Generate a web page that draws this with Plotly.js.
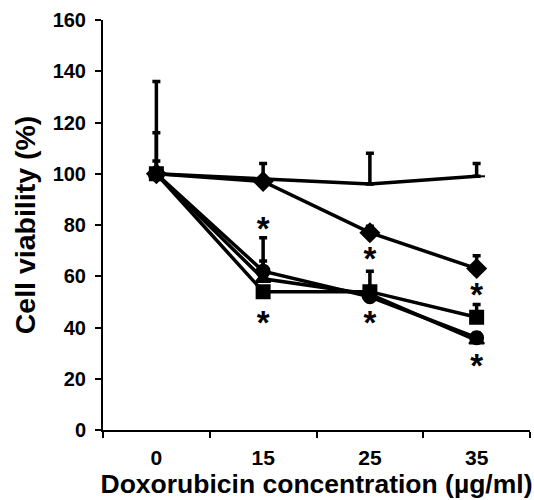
<!DOCTYPE html>
<html>
<head>
<meta charset="utf-8">
<script src="https://cdn.plot.ly/plotly-3.0.1.min.js"></script>
<style>html,body{margin:0;padding:0;background:#fff;}#chart{width:534px;height:500px;}</style>
</head>
<body>
<div id="chart"></div>
<script>
var categories = ["0", "15", "25", "35"];

var controlVals = [100, 98, 96, 99];
var controlErr  = [5, 6, 12, 5];

var diamondVals = [100, 97, 77, 63];
var diamondErr  = [16, 0, 2.5, 5];

var squareVals  = [100, 54, 54, 44];
var squareErr   = [0, 0, 0, 5];

var circleVals  = [100, 62, 52, 36];
var circleErr   = [36, 13, 10, 2];

var triangleVals = [100, 59, 53, 35];
var triangleErr  = [0, 7, 0, 0];

var starX = ["15", "15", "25", "25", "35", "35"];
var starY = [77.5, 40.5, 65.5, 40.5, 51.5, 24];

var yTicks = [0, 20, 40, 60, 80, 100, 120, 140, 160];

var FONT = "Liberation Sans, Arial, sans-serif";

function series(vals, err, symbol, size) {
  return {
    x: categories, y: vals, type: "scatter", mode: "lines+markers",
    line: {color: "#000", width: 3.5},
    marker: {symbol: symbol, size: size, color: "#000", line: {color: "#000", width: 2}},
    error_y: {type: "data", symmetric: false, array: err, arrayminus: err.map(function(){return 0;}),
              color: "#000", thickness: 3.5, width: 4},
    showlegend: false, cliponaxis: false
  };
}

var data = [
  series(controlVals, controlErr, "line-ew", 12),
  series(triangleVals, triangleErr, "triangle-up", 13),
  series(circleVals, circleErr, "circle", 13),
  series(squareVals, squareErr, "square", 13),
  series(diamondVals, diamondErr, "diamond", 14),
  {
    x: starX, y: starY, type: "scatter", mode: "text", text: starX.map(function(){return "*";}),
    textfont: {family: FONT, size: 33, weight: "bold", color: "#000"}, textposition: "middle center",
    showlegend: false, cliponaxis: false, hoverinfo: "skip"
  }
];

var layout = {
  width: 534, height: 500,
  margin: {l: 103, r: 4, t: 20, b: 70},
  paper_bgcolor: "#fff", plot_bgcolor: "#fff",
  font: {family: FONT, color: "#000"},
  xaxis: {
    type: "category", range: [-0.5, 3.5], tickvals: categories, ticktext: categories,
    tickson: "boundaries", ticks: "outside", ticklen: 6, tickwidth: 2, tickcolor: "#000",
    showline: true, linecolor: "#000", linewidth: 2, showgrid: false, zeroline: false,
    ticklabelstandoff: 8,
    tickfont: {size: 21, family: FONT, weight: "bold", color: "#000"},
    title: {text: "<b>Doxorubicin concentration (µg/ml)</b>", font: {size: 26.5, family: FONT, color: "#000"}, standoff: 1}
  },
  yaxis: {
    range: [0, 160], tickvals: yTicks, ticks: "outside", ticklen: 6, tickwidth: 2, tickcolor: "#000",
    showline: true, linecolor: "#000", linewidth: 2, showgrid: false, zeroline: false,
    ticklabelstandoff: 5,
    tickfont: {size: 20, family: FONT, weight: "bold", color: "#000"},
    title: {text: "<b>Cell viability (%)</b>", font: {size: 28.5, family: FONT, color: "#000"}, standoff: 9}
  }
};

Plotly.newPlot("chart", data, layout, {displayModeBar: false, staticPlot: true});
</script>
</body>
</html>
